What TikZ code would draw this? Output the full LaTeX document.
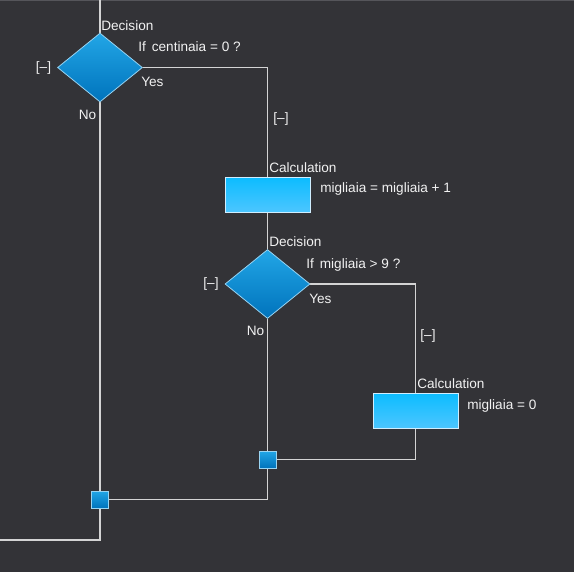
\documentclass[tikz,border=0pt]{standalone}
\usepackage{fontspec}
\setmainfont{Liberation Sans}
\usetikzlibrary{shapes.geometric,calc}
\pgfdeclarelayer{background}
\pgfsetlayers{background,main}
\definecolor{bg}{HTML}{333337}
\definecolor{edge}{HTML}{55555A}
\definecolor{wire}{HTML}{D4D4D4}
\definecolor{txt}{HTML}{F2F2F2}
\definecolor{dtop}{HTML}{22A6E6}
\definecolor{dbot}{HTML}{0073BC}
\definecolor{dline}{HTML}{9AD4F2}
\definecolor{ctop}{HTML}{0CBCFF}
\definecolor{cbot}{HTML}{4CC6FF}
\definecolor{cline}{HTML}{D0EEFF}
\tikzset{
  x=0.75pt, y=-0.75pt,
  decisionbox/.style={diamond, inner sep=0pt, minimum width=85*0.75pt, minimum height=69*0.75pt,
    top color=dtop, bottom color=dbot, draw=dline, line width=0.6pt},
  calcbox/.style={rectangle, inner sep=0pt, minimum width=85*0.75pt, minimum height=35*0.75pt,
    top color=ctop, bottom color=cbot, draw=cline, line width=0.6pt},
  junctionbox/.style={rectangle, inner sep=0pt, minimum width=17*0.75pt, minimum height=17*0.75pt,
    top color=dtop, bottom color=dbot, draw=dline, line width=0.6pt},
  shapeshade/.style={fill=black, opacity=0.35, draw=none, shift={(1.5,1.5)}},
  wireline/.style={draw=wire, line width=1.1pt},
  wireshade/.style={draw=black, opacity=0.45, line width=1.1pt},
  lbl/.style={text=txt, font=\fontsize{10.2}{12}\selectfont, inner sep=0pt, anchor=west},
  lblc/.style={text=txt, font=\fontsize{10.2}{12}\selectfont, inner sep=0pt},
}
\begin{document}
\begin{tikzpicture}
\useasboundingbox (0,0) rectangle (574,572);

% coordinates
\coordinate (topin) at (100,0);
\coordinate (exit) at (0,540);

% shapes
\node[decisionbox] (d1) at (100,67.5) {};
\node[calcbox] (c1) at (267.5,194.5) {};
\node[decisionbox] (d2) at (267.5,284) {};
\node[calcbox] (c2) at (415.5,410.5) {};
\node[junctionbox] (j2) at (267.5,459.5) {};
\node[junctionbox] (j1) at (100,499.5) {};

\begin{pgfonlayer}{background}
\fill[bg] (0,0) rectangle (574,572);
\draw[edge, line width=0.8pt] (0,0.6) -- (574,0.6);
% wire shadows
\begin{scope}[shift={(1.2,1.2)}]
\draw[wireshade] (topin) -- (d1.north);
\draw[wireshade] (d1.south) -- (j1.north);
\draw[wireshade] (j1.south) |- (exit);
\draw[wireshade] (d1.east) -| (c1.north);
\draw[wireshade] (c1.south) -- (d2.north);
\draw[wireshade] (d2.east) -| (c2.north);
\draw[wireshade] (c2.south) |- (j2.east);
\draw[wireshade] (d2.south) -- (j2.north);
\draw[wireshade] (j2.south) |- (j1.east);
\end{scope}
% wires
\draw[wireline] (topin) -- (d1.north);
\draw[wireline] (d1.south) -- (j1.north);
\draw[wireline] (j1.south) |- (exit);
\draw[wireline] (d1.east) -| (c1.north);
\draw[wireline] (c1.south) -- (d2.north);
\draw[wireline] (d2.east) -| (c2.north);
\draw[wireline] (c2.south) |- (j2.east);
\draw[wireline] (d2.south) -- (j2.north);
\draw[wireline] (j2.south) |- (j1.east);
% shape shadows
\fill[shapeshade] (d1.north) -- (d1.east) -- (d1.south) -- (d1.west) -- cycle;
\fill[shapeshade] (d2.north) -- (d2.east) -- (d2.south) -- (d2.west) -- cycle;
\fill[shapeshade] (c1.north west) rectangle (c1.south east);
\fill[shapeshade] (c2.north west) rectangle (c2.south east);
\fill[shapeshade] (j1.north west) rectangle (j1.south east);
\fill[shapeshade] (j2.north west) rectangle (j2.south east);
\end{pgfonlayer}

% labels
\node[lbl] (t1) at (101,26) {Decision};
\node[lbl] (t2) at (138,47) {If \,centinaia = 0 ?};
\node[lbl] (t3) at (141,81.5) {Yes};
\node[lbl] (t4) at (78.5,115) {No};
\node[lblc] (t5) at (43.5,67.5) {[–]};
\node[lblc] (t6) at (281,119) {[–]};
\node[lbl] (t7) at (269,167.5) {Calculation};
\node[lbl] (t8) at (320,189) {migliaia = migliaia + 1};
\node[lbl] (t9) at (269,242) {Decision};
\node[lbl] (t10) at (306,264.5) {If \,migliaia > 9 ?};
\node[lbl] (t11) at (309,298.5) {Yes};
\node[lbl] (t12) at (246.5,331) {No};
\node[lblc] (t13) at (211,284) {[–]};
\node[lblc] (t14) at (428,336) {[–]};
\node[lbl] (t15) at (417,384) {Calculation};
\node[lbl] (t16) at (467,406) {migliaia = 0};
\end{tikzpicture}
\end{document}
